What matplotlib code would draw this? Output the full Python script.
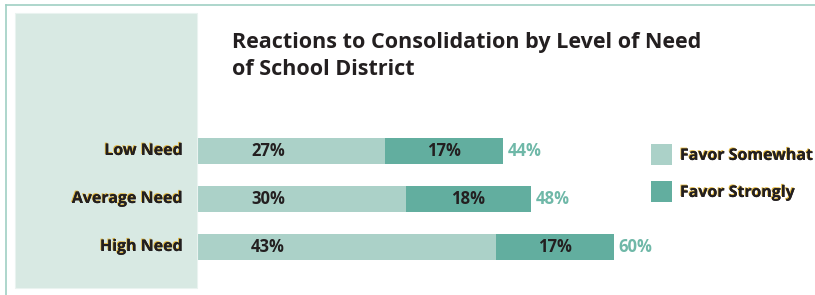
import matplotlib
matplotlib.use("Agg")
import matplotlib.pyplot as plt
import matplotlib.patheffects as pe
from matplotlib.patches import Rectangle
from matplotlib.lines import Line2D
import numpy as np

categories = ["Low Need", "Average Need", "High Need"]
somewhat = [27, 30, 43]
strongly = [17, 18, 17]
totals = [44, 48, 60]
legend_labels = ["Favor Somewhat", "Favor Strongly"]
title = "Reactions to Consolidation by Level of Need\nof School District"

c_light = "#abd1c8"
c_dark = "#62ae9f"
c_total = "#6fb8a8"
c_panel = "#d8e9e3"
c_border = "#9fcfc4"
c_text = "#231f20"

W, H = 815, 295
plt.rcParams['font.family'] = ['Open Sans', 'DejaVu Sans']
fig = plt.figure(figsize=(W / 100, H / 100), dpi=100)
fig.patch.set_facecolor("white")

# frame and left panel (pixel -> figure fraction)
fig.add_artist(Line2D([6 / W, 1], [1 - 5 / H, 1 - 5 / H], color=c_border, lw=1.2))
fig.add_artist(Line2D([6 / W, 6 / W], [0, 1 - 5 / H], color=c_border, lw=1.2))
fig.add_artist(Rectangle((15 / W, 1 - 288 / H), (197 - 15) / W, (288 - 13) / H,
                         facecolor=c_panel, edgecolor="#eaf3f0", lw=0.8))

px_per_pct = 6.95
ax = fig.add_axes([197 / W, 0, (W - 197) / W, 1])
ax.set_xlim(0, (W - 197) / px_per_pct)
row = 48.0
ax.set_ylim((H - 151) / row, -151 / row)
ax.axis("off")

y = np.arange(len(categories))
bh = 26 / row
ax.barh(y, somewhat, height=bh, color=c_light, lw=0)
ax.barh(y, strongly, left=somewhat, height=bh, color=c_dark, lw=0)

shadow = [pe.withSimplePatchShadow(offset=(-0.7, 0.7), shadow_rgbFace="#e0b43a", alpha=1.0),
          pe.Normal()]
lbl_font = dict(fontsize=12, fontweight="bold", color=c_text)
for i in y:
    ax.text(10.2, i, f"{somewhat[i]}%", ha="center", va="center", **lbl_font)
    ax.text(somewhat[i] + strongly[i] / 2, i, f"{strongly[i]}%", ha="center", va="center", **lbl_font)
    ax.text(totals[i] + 0.7, i, f"{totals[i]}%", ha="left", va="center",
            fontsize=12, fontweight="bold", color=c_total)
    fig.text(183 / W, ax.transData.transform((0, i))[1] / H, categories[i], ha="right",
             va="center", fontsize=11.5, fontweight="bold", color=c_text, path_effects=shadow)

# legend
for j, (lab, col) in enumerate(zip(legend_labels, [c_light, c_dark])):
    top = 144 + j * 37
    fig.add_artist(Rectangle((651 / W, 1 - (top + 21) / H), 21 / W, 21 / H,
                             facecolor=col, lw=0))
    fig.text(680 / W, 1 - (top + 12) / H, lab, ha="left", va="center",
             fontsize=11.5, fontweight="bold", color=c_text, path_effects=shadow)

fig.text(232 / W, 1 - 32 / H, title, ha="left", va="top", fontsize=15.5,
         fontweight="bold", color=c_text, linespacing=1.4)

fig.savefig("out.png", dpi=100)
